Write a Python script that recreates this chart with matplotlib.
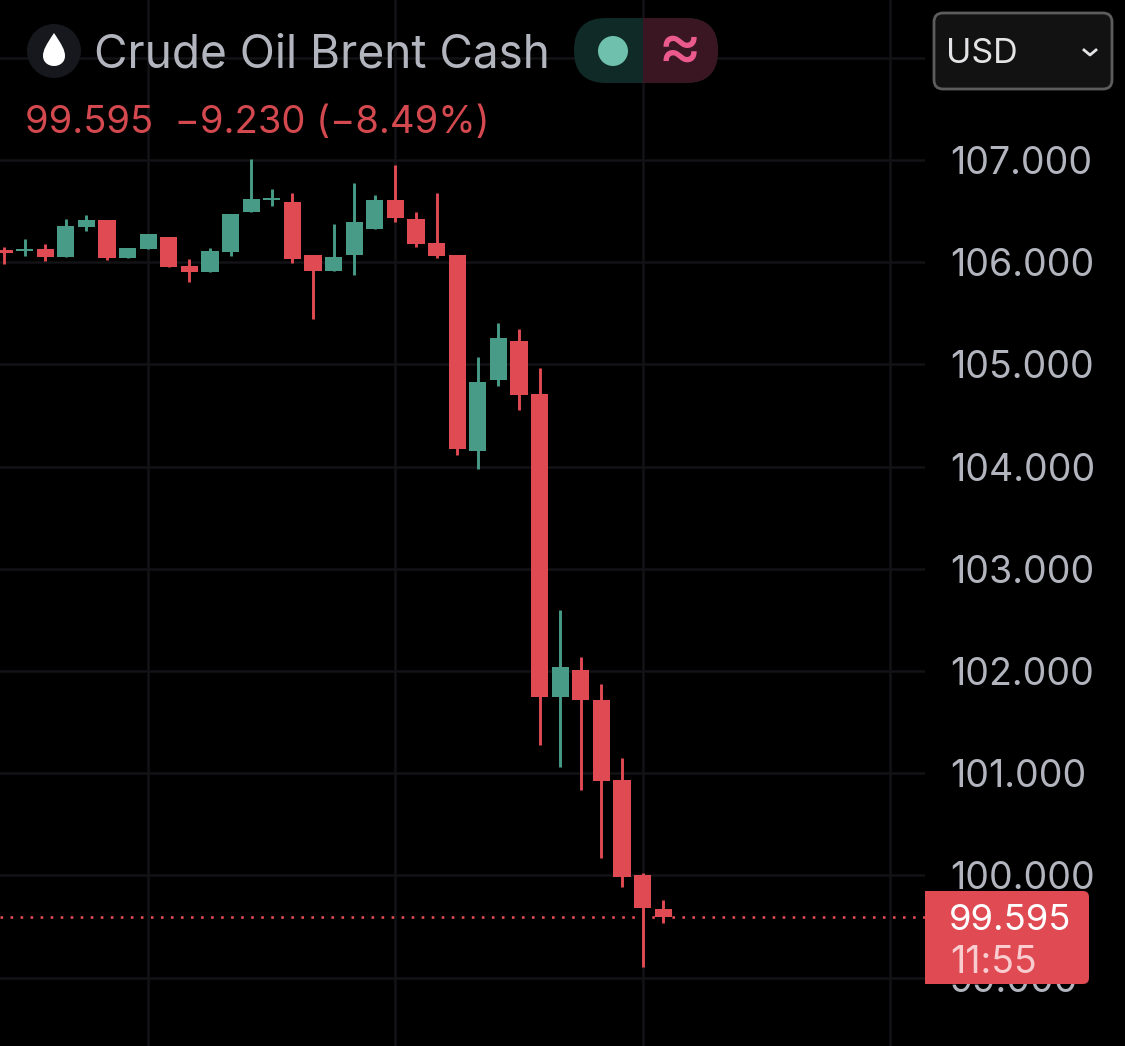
import matplotlib
matplotlib.use("Agg")
import matplotlib.pyplot as plt
from matplotlib.patches import FancyBboxPatch, Rectangle, Circle, PathPatch
from matplotlib.path import Path

plt.rcParams['font.family'] = ['Inter', 'DejaVu Sans']

RED = '#e04a52'
GREEN = '#479b87'
GRID = '#131317'
LABEL = '#b2b5be'

# price candles, one per bar, oldest first
opens = [106.124, 106.114, 106.129, 106.051, 106.344, 106.413, 106.041, 106.129, 106.247, 105.963,
         105.904, 106.100, 106.491, 106.613, 106.589, 106.070, 105.914, 106.070, 106.325, 106.609,
         106.423, 106.188, 106.070, 104.153, 104.847, 105.229, 104.710, 101.746, 102.010, 101.716,
         100.933, 100.004, 99.671]
closes = [106.090, 106.134, 106.051, 106.354, 106.413, 106.041, 106.139, 106.276, 105.953, 105.904,
          106.110, 106.472, 106.618, 106.628, 106.031, 105.914, 106.051, 106.393, 106.609, 106.432,
          106.178, 106.061, 104.172, 104.828, 105.258, 104.701, 101.746, 102.039, 101.716, 100.923,
          99.985, 99.681, 99.593]
highs = [106.149, 106.227, 106.178, 106.423, 106.462, 106.413, 106.139, 106.276, 106.247, 106.031,
         106.139, 106.472, 107.010, 106.716, 106.677, 106.070, 106.374, 106.775, 106.658, 106.951,
         106.491, 106.677, 106.070, 105.072, 105.405, 105.346, 104.965, 102.597, 102.137, 101.873,
         101.149, 100.023, 99.759]
lows = [105.982, 106.061, 106.012, 106.051, 106.305, 106.022, 106.041, 106.129, 105.953, 105.806,
        105.904, 106.061, 106.491, 106.550, 105.992, 105.444, 105.914, 105.875, 106.325, 106.393,
        106.149, 106.041, 104.113, 103.977, 104.789, 104.554, 101.276, 101.061, 100.835, 100.170,
        99.887, 99.104, 99.534]
gridx = [7, 19, 31, 43]
yticks = [99, 100, 101, 102, 103, 104, 105, 106, 107]
last_price = 99.595

fig = plt.figure(figsize=(11.25, 10.46), dpi=100, facecolor='black')
ax = fig.add_axes([0, 0, 925 / 1125, 1], facecolor='black')
idx = list(range(len(opens)))
colors = [GREEN if c >= o else RED for o, c in zip(opens, closes)]

ax.vlines(idx, lows, highs, colors=colors, lw=2.1, zorder=3)
ax.bar(idx, [abs(c - o) for o, c in zip(opens, closes)], bottom=[min(o, c) for o, c in zip(opens, closes)],
       width=0.83, color=colors, linewidth=0, zorder=4)

for v in gridx:
    ax.axvline(v, color=GRID, lw=1.8, zorder=1)
for v in yticks + [108]:
    ax.axhline(v, color=GRID, lw=1.8, zorder=1)
ax.axhline(last_price, color=RED, lw=1.9, ls=(0, (1, 2.8)), zorder=2)

ax.set_xlim(-4 / 20.6, 921 / 20.6)
ax.set_ylim(107 - 886 * 0.009785, 107 + 160 * 0.009785)
ax.set_xticks([])
ax.yaxis.tick_right()
ax.set_yticks(yticks, [f'{v:.3f}' for v in yticks])
ax.tick_params(axis='y', length=0, pad=18, labelsize=27, labelcolor=LABEL)
for s in ax.spines.values():
    s.set_visible(False)

# header and price tag, drawn in image pixels
ui = fig.add_axes([0, 0, 1, 1], zorder=5)
ui.set_xlim(0, 1125)
ui.set_ylim(1046, 0)
ui.axis('off')

ui.add_patch(Circle((54, 51), 27, fc='#16181d', ec='none'))
drop = Path([(54, 33), (46, 45), (43, 50), (43, 56), (43, 62), (48, 66), (54, 66), (60, 66), (65, 62), (65, 56),
             (65, 50), (62, 45), (54, 33)],
            [Path.MOVETO] + [Path.CURVE4] * 12)
ui.add_patch(PathPatch(drop, fc='white', ec='none'))
ui.text(94, 55, 'Crude Oil Brent Cash', color=LABEL, fontsize=33.1, va='center', ha='left')
ui.text(25, 123, '99.595  \u22129.230 (\u22128.49%)', color='#d3494f', fontsize=27.5, va='center', ha='left')

pill = dict(boxstyle='round,pad=0,rounding_size=32', ec='none')
ui.add_patch(FancyBboxPatch((574, 18), 144, 65, fc='#0f2a27', **pill))
right = FancyBboxPatch((574, 18), 144, 65, fc='#3a1522', **pill)
ui.add_patch(right)
right.set_clip_path(Rectangle((643, 0), 100, 100, transform=ui.transData))
ui.add_patch(Circle((613, 51), 15, fc='#6fc0ac', ec='none'))
ui.text(680, 50, '\u2248', color='#ea5a8c', fontsize=48, va='center', ha='center')

ui.add_patch(FancyBboxPatch((934, 13), 178, 76, boxstyle='round,pad=0,rounding_size=9', fc='#121212', ec='#5c5c5c', lw=2))
ui.text(946, 54, 'USD', color='#e4e4e6', fontsize=24.5, va='center', ha='left')
ui.plot([1084, 1090, 1096], [50, 55, 50], color='#e4e4e6', lw=2)

ui.add_patch(FancyBboxPatch((925, 891), 164, 93, boxstyle='round,pad=0,rounding_size=6', fc=RED, ec='none'))
ui.add_patch(Rectangle((925, 891), 40, 93, fc=RED, ec='none'))
ui.text(949, 920, '99.595', color='white', fontsize=26.3, va='center', ha='left')
ui.text(950, 963, '11:55', color='#f9cdd0', fontsize=27, va='center', ha='left')

fig.savefig('out.png', dpi=100, facecolor='black')
